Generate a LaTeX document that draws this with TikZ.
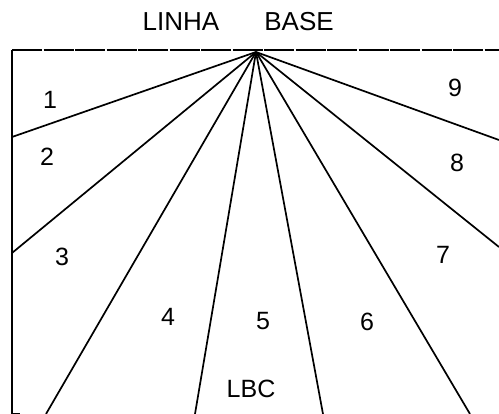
\documentclass[tikz,border=0pt]{standalone}
\usepackage{fontspec}
\setmainfont{Liberation Sans}
\begin{document}
\begin{tikzpicture}[x=1pt,y=-1pt,
  ray/.style={line width=1.7pt},
  edge/.style={line width=1.9pt},
  baseline/.style={line width=1.9pt, dash pattern=on 30pt off 1.5pt},
  lbl/.style={font=\fontsize{25}{25}\selectfont, inner sep=0pt},
  ttl/.style={font=\fontsize{26}{26}\selectfont, inner sep=0pt}]
\useasboundingbox (0,0) rectangle (499,414);
\fill[white] (0,0) rectangle (499,414);
% key points
\coordinate (apex) at (256,52);
\coordinate (tl) at (12,50);
\coordinate (tr) at (499,50);
\coordinate (bl) at (12,414);
\coordinate (e1) at (12,137);
\coordinate (e2) at (12,253);
\coordinate (e3) at (46,414);
\coordinate (e4) at (195,414);
\coordinate (e5) at (323,414);
\coordinate (e6) at (470,414);
\coordinate (e7) at (499,247);
\coordinate (e8) at (499,140);
% frame
\draw[baseline] (tl) -- (tr);
\draw[edge] (tl) -- (bl);
\draw[edge] (bl) -- ++(8,0);
% rays
\foreach \e in {e1,e2,e3,e4,e5,e6,e7,e8}
  \draw[ray] (apex) -- (\e);
% labels
\node[ttl] (linha) at (181,22) {LINHA};
\node[ttl] (base) at (299,22) {BASE};
\node[lbl] (n1) at (50,100) {1};
\node[lbl] (n2) at (47,157) {2};
\node[lbl] (n3) at (62,257) {3};
\node[lbl] (n4) at (168,317) {4};
\node[lbl] (n5) at (263,321) {5};
\node[lbl] (n6) at (367,322) {6};
\node[lbl] (n7) at (443,255) {7};
\node[lbl] (n8) at (457,163) {8};
\node[lbl] (n9) at (455,88) {9};
\node[lbl] (lbc) at (251,389) {LBC};
\end{tikzpicture}
\end{document}
